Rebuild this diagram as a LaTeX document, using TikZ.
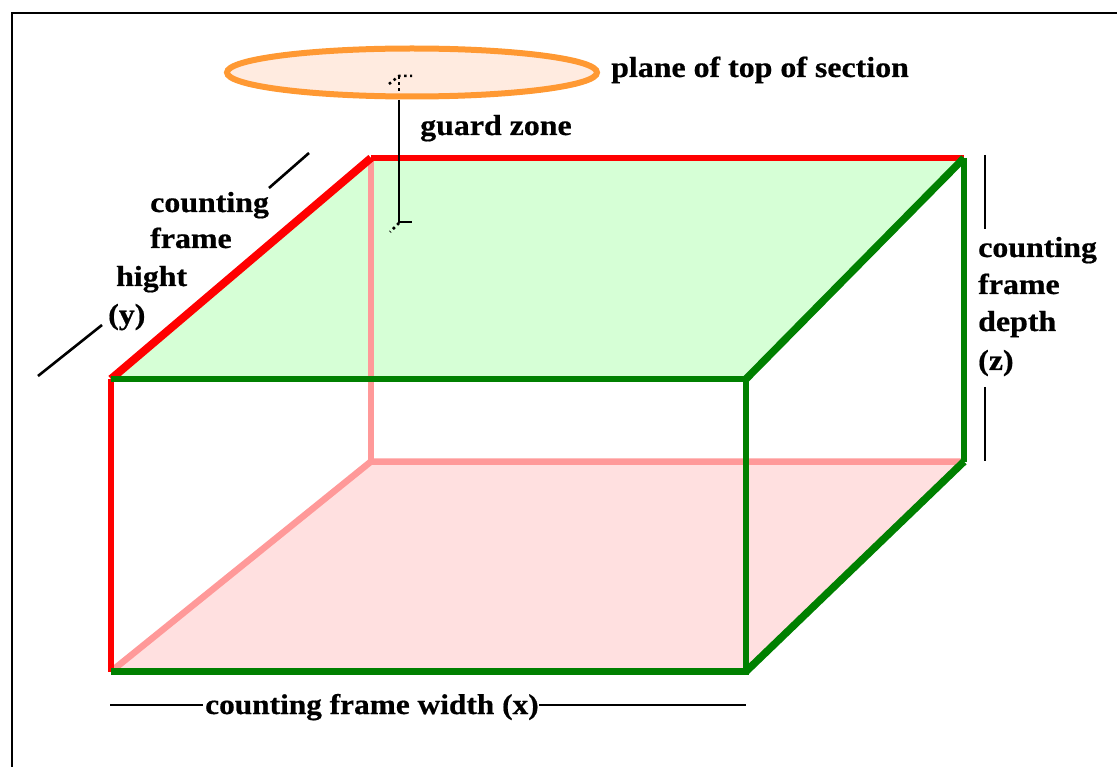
\documentclass[tikz,border=0pt]{standalone}
\usepackage{fontspec}
\setmainfont[FakeStretch=1.1,BoldFeatures={FakeBold=0.6}]{Liberation Serif}
\definecolor{framered}{RGB}{255,0,0}
\definecolor{framegreen}{RGB}{0,128,0}
\definecolor{backred}{RGB}{255,153,153}
\definecolor{topfill}{RGB}{214,255,214}
\definecolor{floorfill}{RGB}{255,224,224}
\definecolor{planeedge}{RGB}{255,153,51}
\definecolor{planefill}{RGB}{255,235,224}
\tikzset{
  lab/.style={font=\fontsize{29}{29}\selectfont\bfseries,inner sep=0pt,anchor=base west},
  dimline/.style={line width=2.6pt,black},
  dotline/.style={line width=2.5pt,dash pattern=on 2.5pt off 3.5pt}
}
\begin{document}
\begin{tikzpicture}[x=1pt,y=-1pt]
\useasboundingbox (0,0) rectangle (1117,767);
\draw[line width=2pt] (1117,13)--(12,13)--(12,767);
\coordinate (a) at (111,379);
\coordinate (b) at (746,379);
\coordinate (c) at (964,158);
\coordinate (d) at (371,158);
\coordinate (e) at (111,671.5);
\coordinate (f) at (746,671.5);
\coordinate (g) at (964,461.5);
\coordinate (h) at (371,461.5);
% plane
\draw[line width=6pt,planeedge,fill=planefill] (412,72.5) ellipse (185 and 24);
% faces
\fill[topfill] (a)--(b)--(c)--(d)--cycle;
\fill[floorfill] (e)--(f)--(g)--(h)--cycle;
% hidden edges
\draw[line width=6.5pt,backred] (d)--(h);
\draw[line width=6.5pt,backred] (e)--(h)--(g);
% red edges
\draw[line width=6.5pt,framered] (a)--(e);
\draw[line width=8pt,framered] (a)--(d);
\draw[line width=6.5pt,framered] (d)--(c);
% green edges
\draw[line width=6.5pt,framegreen] (e)--(f)--(b)--(a);
\draw[line width=6.5pt,framegreen] (c)--(g);
\draw[line width=7.5pt,framegreen] (b)--(c);
\draw[line width=7.5pt,framegreen] (g)--(f);
% guard zone
\draw[dotline] (399,91)--(399,76);
\draw[dotline] (389,84)--(399,76)--(412,76);
\draw[line width=2.8pt] (399,100)--(399,222)--(412,222);
\draw[dotline] (399,223)--(390,232);
% dimension lines
\draw[dimline] (38,376)--(102,325);
\draw[dimline] (269,188)--(309,153);
\draw[dimline] (985,155)--(985,229);
\draw[dimline] (985,387)--(985,461);
\draw[dimline] (110,705)--(203,705);
\draw[dimline] (539,705)--(746,705);
% labels
\node[lab] (planelab) at (611,77) {plane of top of section};
\node[lab] (guardlab) at (420,135) {guard zone};
\node[lab] (countlab) at (150,212) {counting};
\node[lab] (framelab) at (150,248) {frame};
\node[lab] (hightlab) at (116,286) {hight};
\node[lab] (ylab) at (108,324) {(y)};
\node[lab] (countzlab) at (978,257) {counting};
\node[lab] (framezlab) at (978,294) {frame};
\node[lab] (depthlab) at (978,331) {depth};
\node[lab] (zlab) at (978,370) {(z)};
\node[lab,font=\fontsize{28.5}{29}\selectfont\bfseries] (widthlab) at (205,714) {counting frame width (x)};
\end{tikzpicture}
\end{document}
